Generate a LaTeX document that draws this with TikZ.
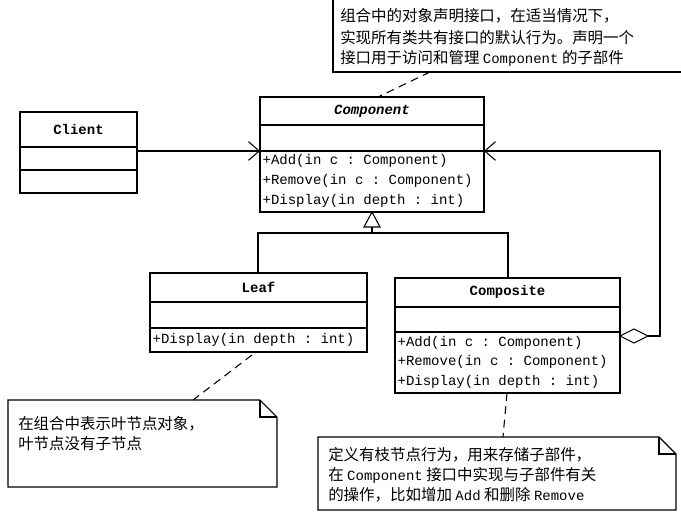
\documentclass[tikz,border=0pt]{standalone}
\usepackage{fontspec}
\setmainfont{Noto Sans CJK SC}
\setmonofont{Liberation Mono}
\usetikzlibrary{calc,arrows.meta}
\tikzset{
  box/.style={draw, thick, line width=0.9pt},
  cls/.style={font=\ttfamily\bfseries\fontsize{10.5}{12}\selectfont},
  meth/.style={font=\ttfamily\fontsize{10.5}{12}\selectfont, anchor=west, inner sep=1pt},
  memo/.style={font=\fontsize{11.6}{12}\selectfont, anchor=west, inner sep=0pt},
  dash line/.style={thick, dash pattern=on 6pt off 4pt},
  open tip/.style={-{Straight Barb[length=8pt,width=14pt]}}
}
\begin{document}
\begin{tikzpicture}[x=0.75pt,y=-0.75pt]
      \useasboundingbox (0,0) rectangle (681,515);
      % Client
      \draw[box] (20,112) rectangle (137,193);
      \draw[box] (20,147) -- (137,147);
      \draw[box] (20,170) -- (137,170);
      \node[cls] (client) at (78.5,129) {Client};
      % Component
      \draw[box] (260,97) rectangle (484,212);
      \draw[box] (260,125) -- (484,125);
      \draw[box] (260,151) -- (484,151);
      \node[cls, font=\ttfamily\bfseries\itshape\fontsize{10.5}{12}\selectfont] (comp) at (372,111) {Component};
      \node[meth] at (261,161) {+Add(in c : Component)};
      \node[meth] at (261,181) {+Remove(in c : Component)};
      \node[meth] at (261,201) {+Display(in depth : int)};
      % Leaf
      \draw[box] (150,273) rectangle (367,352);
      \draw[box] (150,302) -- (367,302);
      \draw[box] (150,328) -- (367,328);
      \node[cls] (leaf) at (258.5,287) {Leaf};
      \node[meth] at (151,340) {+Display(in depth : int)};
      % Composite
      \draw[box] (395,278) rectangle (620,393);
      \draw[box] (395,307) -- (620,307);
      \draw[box] (395,332) -- (620,332);
      \node[cls] (composite) at (507.5,292) {Composite};
      \node[meth] at (396,343) {+Add(in c : Component)};
      \node[meth] at (396,362) {+Remove(in c : Component)};
      \node[meth] at (396,382) {+Display(in depth : int)};
      % association
      \draw[thick, open tip] (137,151) -- (260,151);
      % aggregation
      \draw[thick, open tip] (648,336) -- (660,336) -- (660,151) -- (484,151);
      \draw[thick, fill=white] (620,336) -- (634,329) -- (648,336) -- (634,343) -- cycle;
      % generalization
      \draw[thick] (258,273) -- (258,233) -- (508,233) -- (508,278);
      \draw[thick] (372,233) -- (372,226);
      \draw[thick, fill=white] (372,212) -- (380,227) -- (364,227) -- cycle;
      % notes
      \draw[thick] (333,-2) -- (333,72) -- (683,72);
      \node[memo] at (340,16) {组合中的对象声明接口，在适当情况下，};
      \node[memo] at (340,38) {实现所有类共有接口的默认行为。声明一个};
      \node[memo] at (340,58) {接口用于访问和管理 {\ttfamily\fontsize{10.5}{12}\selectfont Component} 的子部件};
      \draw[dash line] (430,72) -- (378,97);
      \draw[thick] (8,400) -- (260,400) -- (277,417) -- (277,487) -- (8,487) -- cycle;
      \draw[thick] (260,400) -- (260,417) -- (277,417);
      \node[memo] at (18,424) {在组合中表示叶节点对象，};
      \node[memo] at (18,444) {叶节点没有子节点};
      \draw[dash line] (252,355) -- (193,400);
      \draw[thick] (318,437) -- (659,437) -- (676,454) -- (676,510) -- (318,510) -- cycle;
      \draw[thick] (659,437) -- (659,454) -- (676,454);
      \node[memo] at (328,455) {定义有枝节点行为，用来存储子部件，};
      \node[memo] at (328,475) {在 {\ttfamily\fontsize{10.5}{12}\selectfont Component} 接口中实现与子部件有关};
      \node[memo] at (328,495) {的操作，比如增加 {\ttfamily\fontsize{10.5}{12}\selectfont Add} 和删除 {\ttfamily\fontsize{10.5}{12}\selectfont Remove}};
      \draw[dash line] (507,393) -- (503,437);
\end{tikzpicture}
\end{document}
